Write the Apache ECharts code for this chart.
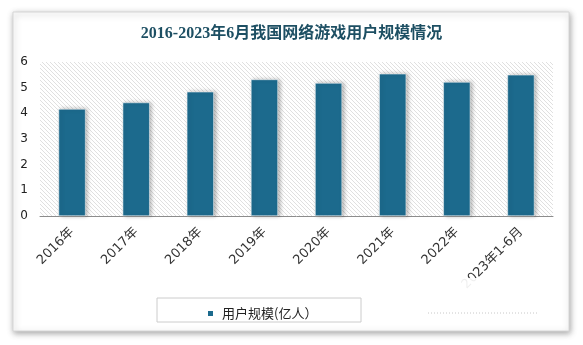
<!DOCTYPE html>
<html><head><meta charset="utf-8">
<script src="https://cdn.jsdelivr.net/npm/echarts@6/dist/echarts.min.js"></script>
<style>html,body{margin:0;padding:0;background:#fff}#c{width:583px;height:345px}</style>
</head><body><div id="c"></div>
<script>
var titleText = '2016-2023年6月我国网络游戏用户规模情况';
var categories = ['2016年','2017年','2018年','2019年','2020年','2021年','2022年','2023年1-6月'];
var seriesName = '用户规模(亿人）';
var values = [4.17, 4.42, 4.84, 5.32, 5.18, 5.54, 5.22, 5.50];
var yMin = 0, yMax = 6, yInterval = 1;

var pc = document.createElement('canvas');
pc.width = 4; pc.height = 4;
var g = pc.getContext('2d');
g.fillStyle = '#ffffff'; g.fillRect(0,0,4,4);
g.strokeStyle = '#e0e0e0'; g.lineWidth = 1;
g.beginPath();
g.moveTo(-1,-1); g.lineTo(5,5);
g.moveTo(-1,3); g.lineTo(1,5);
g.moveTo(3,-1); g.lineTo(5,1);
g.stroke();

var chart = echarts.init(document.getElementById('c'), null, {renderer:'canvas'});
chart.setOption({
  backgroundColor: '#ffffff',
  animation: false,
  graphic: [
    {type:'rect', z:-10, shape:{x:13,y:12,width:556,height:319},
     style:{fill:'#ffffff', stroke:'#d6d6d6', lineWidth:1, shadowBlur:6, shadowColor:'rgba(0,0,0,0.35)', shadowOffsetX:1, shadowOffsetY:2}},
    {type:'rect', z:1, shape:{x:157,y:298,width:204,height:24},
     style:{fill:'#ffffff', stroke:'#cccccc', lineWidth:1}},
    {type:'rect', z:100, shape:{x:425,y:278,width:112,height:36},
     style:{fill:'rgba(255,255,255,0.92)'}},
    {type:'line', z:101, shape:{x1:428,y1:313,x2:537,y2:313},
     style:{stroke:'#c8c8c8', lineWidth:1, lineDash:[1,2]}}
  ],
  title: {
    text: titleText, left: 'center', top: 21,
    textStyle: {fontFamily: '"Liberation Serif", "Noto Sans CJK SC"', fontSize: 16, fontWeight: 'bold', color: '#1d4f63'}
  },
  legend: {
    left: 201, top: 302, itemWidth: 7, itemHeight: 7, icon: 'rect', z: 5,
    textStyle: {fontFamily: '"Noto Sans CJK SC"', fontSize: 13, color: '#222', padding:[0,0,0,3]},
    data: [seriesName]
  },
  grid: {
    left: 40, right: 30, top: 62, bottom: 129, show: true, borderWidth: 0,
    backgroundColor: {image: pc, repeat: 'repeat'}
  },
  xAxis: {
    type: 'category', data: categories,
    axisLine: {lineStyle: {color: '#8c8c8c', width: 1}},
    axisTick: {show: false},
    axisLabel: {rotate: 45, margin: 14, fontSize: 13, color: '#333', fontFamily: '"DejaVu Sans", "Noto Sans CJK SC"', interval: 0}
  },
  yAxis: {
    type: 'value', min: yMin, max: yMax, interval: yInterval,
    axisLine: {show: false}, axisTick: {show: false}, splitLine: {show: false},
    axisLabel: {margin: 12, fontSize: 12, color: '#222', fontFamily: '"DejaVu Sans"'}
  },
  series: [{
    name: seriesName, type: 'bar', data: values, barWidth: 27,
    itemStyle: {color: '#1c6a8d', borderColor: '#ffffff', borderWidth: 0.5,
      shadowBlur: 4, shadowColor: 'rgba(0,0,0,0.3)', shadowOffsetX: 2, shadowOffsetY: 0}
  }]
});
</script></body></html>
